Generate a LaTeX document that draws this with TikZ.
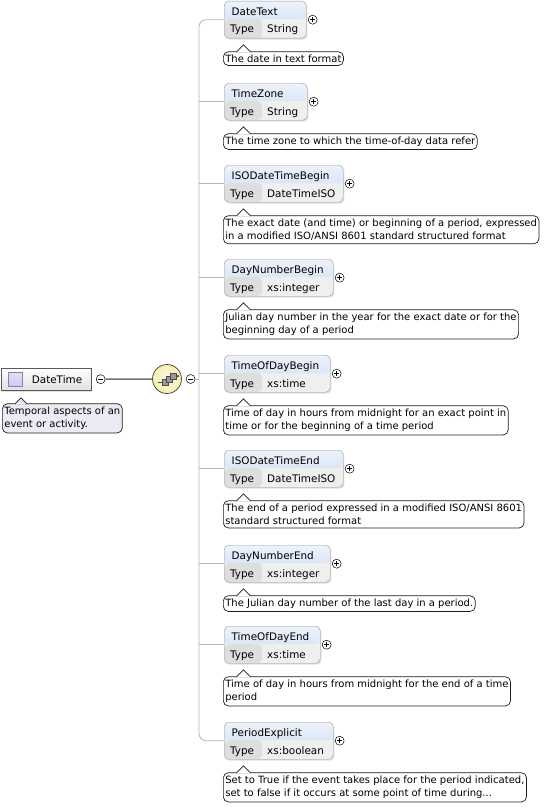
\documentclass[tikz,border=0pt]{standalone}
\usepackage{fontspec}
\setmainfont{DejaVu Sans}
\usepackage{tikz}
\usetikzlibrary{positioning, shadows}

\definecolor{headtop}{HTML}{EEF3FB}
\definecolor{headbot}{HTML}{C6D7F1}
\definecolor{typecell}{HTML}{DEDEDE}
\definecolor{valcell}{HTML}{EFEFEF}
\definecolor{boxline}{HTML}{9C9C9C}
\definecolor{busline}{HTML}{B4B4B4}
\definecolor{docline}{HTML}{1E1E1E}
\definecolor{docfill}{HTML}{EEEAF5}
\definecolor{iconfill}{HTML}{D4C8EA}
\definecolor{iconline}{HTML}{8D7BBE}
\definecolor{seqfill}{HTML}{F6EDB0}

\begin{document}
\begin{tikzpicture}[x=1pt, y=-1pt,
  every node/.style={font=\fontsize{10.4}{12}\selectfont},
  elbox/.style={anchor=north west, draw=boxline, rounded corners=4.5pt, fill=valcell, align=left,
    inner xsep=7.5pt, inner ysep=0pt, text height=14pt, text depth=23pt,
    drop shadow={shadow xshift=1.2pt, shadow yshift=-1.5pt, fill=black!25},
    path picture={
      \fill[top color=headtop, bottom color=headbot] (path picture bounding box.north west) rectangle ([yshift=-18pt]path picture bounding box.north east);
      \fill[typecell] ([yshift=-18pt]path picture bounding box.north west) rectangle ([xshift=38pt]path picture bounding box.south west);}},
  eltype/.style={anchor=base west, inner sep=0pt, execute at begin node={\makebox[37pt][l]{Type}}},
  doc/.style={draw=docline, line width=0.7pt, rounded corners=5pt, fill=white, align=left,
    inner xsep=2pt, inner ysep=3pt, font=\fontsize{10}{13.5}\selectfont},
  doctip/.style={draw=docline, fill=white, line width=0.7pt},
  plus/.style={circle, draw=black, fill=white, minimum size=9pt, inner sep=0pt, line width=0.5pt,
    path picture={\draw[line width=0.5pt]
      ([xshift=-2.3pt]path picture bounding box.center) -- ([xshift=2.3pt]path picture bounding box.center)
      ([yshift=-2.3pt]path picture bounding box.center) -- ([yshift=2.3pt]path picture bounding box.center);}},
  minus/.style={circle, draw=black, fill=white, minimum size=9pt, inner sep=0pt, line width=0.5pt,
    path picture={\draw[line width=0.5pt]
      ([xshift=-2.3pt]path picture bounding box.center) -- ([xshift=2.3pt]path picture bounding box.center);}},
  topbox/.style={anchor=north west, draw=black!65, top color=white, bottom color=black!12,
    minimum height=22pt, text width=72pt, align=right, inner xsep=9pt,
    drop shadow={shadow xshift=1.2pt, shadow yshift=-1.5pt, fill=black!25}},
  icon/.style={draw=iconline, top color=iconfill!60, bottom color=iconfill, minimum size=14pt, inner sep=0pt},
  seq/.style={circle, draw=black!75, line width=0.7pt, inner color=seqfill!30, outer color=seqfill,
    minimum size=29pt, inner sep=0pt},
  seqbox/.style={draw=black!70, fill=black!40, line width=0.4pt},
  conn/.style={draw=busline, line width=0.8pt},
  link/.style={draw=black!55, line width=1.6pt}]

  \useasboundingbox (0,0) rectangle (548,808);

  % root element and its sequence
  \node[topbox] (dateTime) at (1,368) {DateTime};
  \node[icon, right=7pt of dateTime.west] (dateTime-i) {};
  \node[minus, right=4.5pt of dateTime] (dateTime-m) {};
  \node[doc, fill=docfill, below right=13pt and 1pt of dateTime.south west] (dateTime-d) {Temporal aspects of an\\event or activity.};
  \filldraw[doctip, fill=docfill] ([shift={(13,0.5)}]dateTime-d.north west) -- ++(6,-6) -- ++(6,6);
  \node[seq] (seq) at (167,379) {};
  \draw[black!70, line width=0.5pt] ([shift={(-9,3)}]seq.center) -- ([shift={(-5,3)}]seq.center);
  \filldraw[seqbox] ([shift={(-5,0)}]seq.center) rectangle ([shift={(1,6)}]seq.center);
  \filldraw[seqbox] ([shift={(-1,-3)}]seq.center) rectangle ([shift={(5,3)}]seq.center);
  \filldraw[seqbox] ([shift={(3,-6)}]seq.center) rectangle ([shift={(9,0)}]seq.center);
  \draw[black!70, line width=0.5pt] ([shift={(9,-3)}]seq.center) -- ([shift={(11,-3)}]seq.center);
  \fill[black!80] ([shift={(11,-3)}]seq.center) circle (1.1);
  \node[minus, right=4pt of seq] (seq-m) {};
  \draw[link] (dateTime-m) -- (seq);

  % children
  \node[elbox, text width=67pt] (dateText) at (224,1) {DateText};
  \node[eltype] (dateText-t) at ([shift={(6,32)}]dateText.north west) {String};
  \node[plus, right=1.5pt of dateText] (dateText-p) {};
  \node[doc, below right=13pt and -1pt of dateText.south west] (dateText-d) {The date in text format};
  \filldraw[doctip] ([shift={(13.5,0.5)}]dateText-d.north west) -- ++(7,-7) -- ++(7,7);

  \node[elbox, text width=68pt] (timeZone) at (224,83) {TimeZone};
  \node[eltype] (timeZone-t) at ([shift={(6,32)}]timeZone.north west) {String};
  \node[plus, right=1.5pt of timeZone] (timeZone-p) {};
  \node[doc, below right=13pt and -1pt of timeZone.south west] (timeZone-d) {The time zone to which the time-of-day data refer};
  \filldraw[doctip] ([shift={(13.5,0.5)}]timeZone-d.north west) -- ++(7,-7) -- ++(7,7);

  \node[elbox, text width=104pt] (isoBegin) at (224,165) {ISODateTimeBegin};
  \node[eltype] (isoBegin-t) at ([shift={(6,32)}]isoBegin.north west) {DateTimeISO};
  \node[plus, right=1.5pt of isoBegin] (isoBegin-p) {};
  \node[doc, below right=13pt and -1pt of isoBegin.south west] (isoBegin-d) {The exact date (and time) or beginning of a period, expressed\\in a modified ISO/ANSI 8601 standard structured format};
  \filldraw[doctip] ([shift={(13.5,0.5)}]isoBegin-d.north west) -- ++(7,-7) -- ++(7,7);

  \node[elbox, text width=94pt] (dayBegin) at (224,259) {DayNumberBegin};
  \node[eltype] (dayBegin-t) at ([shift={(6,32)}]dayBegin.north west) {xs:integer};
  \node[plus, right=1.5pt of dayBegin] (dayBegin-p) {};
  \node[doc, below right=13pt and -1pt of dayBegin.south west] (dayBegin-d) {Julian day number in the year for the exact date or for the\\beginning day of a period};
  \filldraw[doctip] ([shift={(13.5,0.5)}]dayBegin-d.north west) -- ++(7,-7) -- ++(7,7);

  \node[elbox, text width=91pt] (timeBegin) at (224,355) {TimeOfDayBegin};
  \node[eltype] (timeBegin-t) at ([shift={(6,32)}]timeBegin.north west) {xs:time};
  \node[plus, right=1.5pt of timeBegin] (timeBegin-p) {};
  \node[doc, below right=13pt and -1pt of timeBegin.south west] (timeBegin-d) {Time of day in hours from midnight for an exact point in\\time or for the beginning of a time period};
  \filldraw[doctip] ([shift={(13.5,0.5)}]timeBegin-d.north west) -- ++(7,-7) -- ++(7,7);

  \node[elbox, text width=104pt] (isoEnd) at (224,450) {ISODateTimeEnd};
  \node[eltype] (isoEnd-t) at ([shift={(6,32)}]isoEnd.north west) {DateTimeISO};
  \node[plus, right=1.5pt of isoEnd] (isoEnd-p) {};
  \node[doc, below right=13pt and -1pt of isoEnd.south west] (isoEnd-d) {The end of a period expressed in a modified ISO/ANSI 8601\\standard structured format};
  \filldraw[doctip] ([shift={(13.5,0.5)}]isoEnd-d.north west) -- ++(7,-7) -- ++(7,7);

  \node[elbox, text width=91pt] (dayEnd) at (224,545) {DayNumberEnd};
  \node[eltype] (dayEnd-t) at ([shift={(6,32)}]dayEnd.north west) {xs:integer};
  \node[plus, right=1.5pt of dayEnd] (dayEnd-p) {};
  \node[doc, below right=13pt and -1pt of dayEnd.south west] (dayEnd-d) {The Julian day number of the last day in a period.};
  \filldraw[doctip] ([shift={(13.5,0.5)}]dayEnd-d.north west) -- ++(7,-7) -- ++(7,7);

  \node[elbox, text width=81pt] (timeEnd) at (224,626) {TimeOfDayEnd};
  \node[eltype] (timeEnd-t) at ([shift={(6,32)}]timeEnd.north west) {xs:time};
  \node[plus, right=1.5pt of timeEnd] (timeEnd-p) {};
  \node[doc, below right=13pt and -1pt of timeEnd.south west] (timeEnd-d) {Time of day in hours from midnight for the end of a time\\period};
  \filldraw[doctip] ([shift={(13.5,0.5)}]timeEnd-d.north west) -- ++(7,-7) -- ++(7,7);

  \node[elbox, text width=94pt] (periodExplicit) at (224,722) {PeriodExplicit};
  \node[eltype] (periodExplicit-t) at ([shift={(6,32)}]periodExplicit.north west) {xs:boolean};
  \node[plus, right=1.5pt of periodExplicit] (periodExplicit-p) {};
  \node[doc, below right=13pt and -1pt of periodExplicit.south west] (periodExplicit-d) {Set to True if the event takes place for the period indicated,\\set to false if it occurs at some point of time during...};
  \filldraw[doctip] ([shift={(13.5,0.5)}]periodExplicit-d.north west) -- ++(7,-7) -- ++(7,7);

  % connectors
  \coordinate (bus) at (199,379);
  \draw[conn, rounded corners=7pt] (dateText.west) -| (bus) |- (periodExplicit.west);
  \draw[conn] (bus |- timeZone.west) -- (timeZone.west);
  \draw[conn] (bus |- isoBegin.west) -- (isoBegin.west);
  \draw[conn] (bus |- dayBegin.west) -- (dayBegin.west);
  \draw[conn] (bus |- timeBegin.west) -- (timeBegin.west);
  \draw[conn] (bus |- isoEnd.west) -- (isoEnd.west);
  \draw[conn] (bus |- dayEnd.west) -- (dayEnd.west);
  \draw[conn] (bus |- timeEnd.west) -- (timeEnd.west);
  \draw[conn] (seq-m) -- (bus);
\end{tikzpicture}
\end{document}
